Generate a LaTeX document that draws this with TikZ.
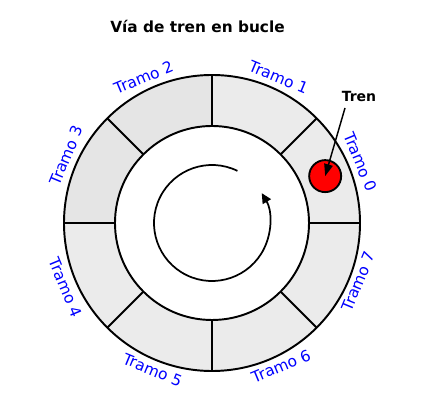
\documentclass[tikz,border=0pt]{standalone}
\usepackage{fontspec}
\setmainfont{DejaVu Sans}
\usetikzlibrary{arrows.meta}
\definecolor{segdark}{HTML}{E5E5E5}
\definecolor{seglight}{HTML}{EBEBEB}
\definecolor{labelblue}{HTML}{0000FF}
\tikzset{
  ringline/.style={draw=black, line width=1.45pt},
  seglabel/.style={text=labelblue, font=\fontsize{11.6}{13}\selectfont, inner sep=0pt},
  titletext/.style={font=\bfseries\fontsize{11.5}{14}\selectfont, inner sep=0pt},
  trentext/.style={font=\bfseries\fontsize{10.5}{13}\selectfont, inner sep=0pt},
  trainshape/.style={circle, draw=black, line width=1.4pt, fill=red, minimum size=32*0.75pt, inner sep=0pt},
  pointer/.style={draw=black, line width=1.1pt, -{Triangle[length=9pt,width=6.5pt]}},
  looparrow/.style={draw=black, line width=1.3pt, -{Triangle[length=7.5pt,width=7pt]}}
}
\begin{document}
\begin{tikzpicture}[x=0.75pt,y=0.75pt]
\useasboundingbox (-212,-193) rectangle (212,223);
\coordinate (c) at (0,0);
% segments
\foreach \k/\col in {0/seglight,1/seglight,2/segdark,3/segdark,4/seglight,5/seglight,6/seglight,7/seglight}{
  \pgfmathsetmacro{\a}{45*\k}
  \pgfmathsetmacro{\b}{45*\k+45}
  \fill[\col] (\a:97) arc[start angle=\a, end angle=\b, radius=97] -- (\b:148) arc[start angle=\b, end angle=\a, radius=148] -- cycle;
}
\draw[ringline] (c) circle[radius=148];
\draw[ringline] (c) circle[radius=97];
\foreach \k in {0,...,7}{
  \draw[ringline] (45*\k:97) -- (45*\k:148);
}
% labels
\foreach \k/\ang/\rad/\rot in {0/22.3/160.5/-67.5,1/65.4/160/-22.5,2/115.2/160.8/22.5,3/155.1/160.4/67.5,4/203.8/160/-67.5,5/248/158.6/-22.5,6/295.8/158.8/22.5,7/338.2/157.7/67.5}{
  \node[seglabel, rotate=\rot] (t\k) at (\ang:\rad) {Tramo \k};
}
% inner loop arrow
\draw[looparrow] (64:58) arc[start angle=64, end angle=391, radius=58];
% title
\node[titletext] (title) at (-14.5,197) {Vía de tren en bucle};
% train
\node[trainshape] (train) at (22.5:122.5) {};
\node[trentext] (tren) at (147,126) {Tren};
\coordinate (trenfoot) at (133,115);
\draw[pointer] (trenfoot) -- (train.center);
\end{tikzpicture}
\end{document}
